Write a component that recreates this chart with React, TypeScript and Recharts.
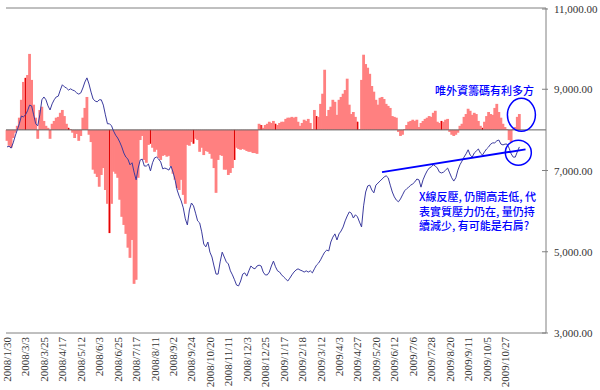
import React from "react";
import {
  ComposedChart,
  Bar,
  Line,
  XAxis,
  YAxis,
  ReferenceLine,
  ReferenceDot,
  Cell,
} from "recharts";

// TAIEX close (right axis), one point every ~1.75 trading days
const taiex = [
  7580, 7600, 7550, 7680, 7850, 8000, 8150, 8340, 8320, 8370,
  8470, 8610, 8590, 8370, 8150, 8100, 8370, 8740, 8810, 8740,
  8590, 8490, 8640, 8740, 8810, 8830, 8980, 9110, 9060, 9030,
  8980, 9010, 8980, 8960, 8910, 8880, 8910, 9030, 9180, 9280,
  9130, 8930, 8760, 8710, 8690, 8740, 8740, 8610, 8370, 8150,
  8150, 8100, 7970, 7870, 7800, 7700, 7580, 7430, 7330, 7280,
  7140, 7190, 6960, 6770, 7060, 7260, 7280, 7110, 7110, 7160,
  6990, 7190, 7310, 7330, 7280, 7210, 7040, 7060, 7040, 7010,
  7110, 6960, 6770, 6520, 6370, 6250, 6080, 5810, 5660, 6030,
  6200, 6130, 5950, 5760, 5710, 5490, 5190, 5120, 5240, 4990,
  4870, 4650, 4450, 4450, 4750, 4990, 4870, 4750, 4700, 4530,
  4430, 4310, 4180, 4160, 4280, 4450, 4480, 4400, 4530, 4650,
  4600, 4580, 4650, 4670, 4650, 4500, 4430, 4430, 4500, 4650,
  4770, 4630, 4530, 4500, 4430, 4380, 4330, 4280, 4350, 4430,
  4500, 4550, 4580, 4550, 4530, 4500, 4530, 4500, 4530, 4480,
  4580, 4670, 4720, 4800, 4900, 4990, 5040, 5020, 5240, 5360,
  5440, 5290, 5440, 5510, 5610, 5760, 5880, 5980, 5950, 5830,
  5910, 5860, 5730, 5610, 6130, 6470, 6620, 6640, 6520, 6450,
  6640, 6690, 6740, 6790, 6840, 6870, 6820, 6640, 6470, 6350,
  6270, 6230, 6300, 6400, 6500, 6550, 6590, 6640, 6670, 6720,
  6790, 6770, 6590, 6770, 6890, 6990, 7060, 7090, 7140, 7110,
  7060, 6960, 6940, 6960, 7010, 7060, 6940, 6820, 6740, 6820,
  7010, 7140, 7230, 7330, 7410, 7510, 7380, 7330, 7430, 7480,
  7530, 7430, 7380, 7460, 7530, 7580, 7650, 7680, 7680, 7730,
  7750, 7650, 7630, 7650, 7650, 7550, 7410, 7330, 7330, 7460, 7580,
];

// foreign investor chips (hidden left axis), same points as taiex
const flow = [
  -27, -39, -44, -20, -7, 10, 30, 74, 118, 128,
  135, 187, 123, 62, 30, -22, 49, 57, 22, 10,
  5, -22, 15, 22, 30, 32, 42, 49, 34, 15,
  5, 2, -7, -20, -10, -27, -15, 30, 54, 81,
  -12, -30, -98, -108, -116, -140, -111, -94, -148, -182,
  -254, -182, -103, -108, -118, -172, -214, -234, -256, -290,
  -315, -271, -379, -369, -118, -25, -15, -74, -81, -37,
  -34, -44, -54, -49, -69, -74, -64, -62, -66, -64,
  -89, -108, -123, -143, -148, -123, -160, -182, -37, -39,
  -30, -34, -22, -25, -54, -44, -62, -52, -54, -59,
  -71, -94, -155, -74, -62, -64, -98, -98, -111, -106,
  -94, -74, -44, -47, -49, -47, -49, -52, -54, -54,
  -57, -57, -59, 15, 12, 5, 12, 15, 20, 17,
  22, 15, 12, 17, 20, 20, 27, 30, 30, 32,
  30, 32, 20, 10, 17, 25, 22, 27, 17, 2,
  49, 34, 32, 64, 89, 148, 34, 49, 57, 74,
  69, 37, 74, 81, 89, 98, 126, 62, 39, 44,
  32, 20, 2, 123, 185, 162, 153, 138, 108, 94,
  74, 62, 79, 81, 76, 64, 59, 54, 34, 32,
  30, -5, -15, -12, 2, 12, 20, 22, 25, 22,
  25, 7, 17, 22, 27, 30, 34, 32, 42, 47,
  20, 17, 22, 20, 25, 27, -5, -12, -15, -12,
  -7, 10, 15, 32, 39, 52, 47, 37, 42, 39,
  22, 10, 5, 20, 34, 44, 39, 37, 54, 64,
  44, 30, 15, 7, 2, -25, -30, 2, 7, 32, 39,
];

const dateLabels = [
  "2008/1/30", "2008/3/3", "2008/3/25", "2008/4/17", "2008/5/12", "2008/6/3",
  "2008/6/25", "2008/7/17", "2008/8/11", "2008/9/2", "2008/9/24", "2008/10/20",
  "2008/11/11", "2008/12/3", "2008/12/25", "2009/1/17", "2009/2/18", "2009/3/12",
  "2009/4/3", "2009/4/27", "2009/5/20", "2009/6/12", "2009/7/6", "2009/7/28",
  "2009/8/20", "2009/9/11", "2009/10/5", "2009/10/27",
];
const labelStep = 9;

const rightTicks = [3000, 5000, 7000, 9000, 11000];
const leftTicks = [-500, -400, -300, -200, -100, 0, 100, 200, 300];

// bars that Excel drew with a thin darker edge
const darkBars = [9, 30, 50, 70, 91, 111, 124, 131, 151, 171, 212, 232];

// annotations: neckline and the two circles
const necklineStart = { x: 183, y: 6960 };
const necklineEnd = { x: 253, y: 7520 };
const upperCircle = { x: 251, y: 8370 };
const lowerCircle = { x: 249.5, y: 7440 };

const data = taiex.map((v, i) => ({ i, taiex: v, flow: flow[i] }));
const xTicks = dateLabels.map((_, k) => k * labelStep);

const AXIS = "#808080";
const BAR = "#ff8080";
const BAR_EDGE = "#e00000";
const SERIF = '"Liberation Serif", "Times New Roman", serif';
const CJK = '"Noto Sans CJK TC", "Noto Sans CJK SC", sans-serif';

const fmt = (v: number) =>
  v.toLocaleString("en-US", { minimumFractionDigits: 2, maximumFractionDigits: 2 });

const DateTick = (props: any) => {
  const { x, y, payload } = props;
  const label = dateLabels[Math.round(payload.value / labelStep)] || "";
  return (
    <g transform={`translate(${x},${y})`}>
      <text
        x={0}
        y={0}
        dy={4}
        textAnchor="end"
        transform="rotate(-90)"
        fontSize={11}
        fontFamily={SERIF}
        fill="#333"
      >
        {label}
      </text>
    </g>
  );
};

const RightTick = (props: any) => {
  const { x, y, payload } = props;
  return (
    <g>
      <line x1={x - 12} x2={x - 6} y1={y} y2={y} stroke={AXIS} />
      <text x={x} y={y} dy={4} textAnchor="start" fontSize={11} fontFamily={SERIF} fill="#333">
        {fmt(payload.value)}
      </text>
    </g>
  );
};

const LeftTick = (props: any) => {
  const { x, y } = props;
  return <line x1={x} x2={x + 3} y1={y} y2={y} stroke={AXIS} />;
};

// bars drawn a touch wider so neighbours butt together like Excel's 0-gap columns
const FlowBar = (p: any) => {
  if (p.height == null || p.width == null) return null;
  const top = Math.min(p.y, p.y + p.height);
  const h = Math.abs(p.height);
  const dark = p.fill === BAR_EDGE;
  return (
    <g>
      <rect x={p.x - 0.4} y={top} width={p.width + 0.8} height={h} fill={BAR} />
      {dark && <rect x={p.x + p.width / 2 - 0.5} y={top} width={1} height={h} fill={BAR_EDGE} />}
    </g>
  );
};

const ellipse = (rx: number, ry: number) => (p: any) =>
  (
    <ellipse cx={p.cx} cy={p.cy} rx={rx} ry={ry} fill="none" stroke="#0000ff" strokeWidth={1.5} />
  );

const note: React.CSSProperties = {
  position: "absolute",
  color: "#0000ff",
  fontFamily: CJK,
  fontSize: 11,
  fontWeight: 500,
  lineHeight: "14.5px",
  whiteSpace: "pre",
};

export default function App() {
  return (
    <div style={{ position: "absolute", left: 0, top: 0, width: 600, height: 390, background: "#fff" }}>
      <ComposedChart
        width={600}
        height={390}
        data={data}
        margin={{ top: 8, right: 0, bottom: 0, left: 6 }}
      >
        <XAxis
          dataKey="i"
          type="number"
          domain={[-0.5, 263]}
          ticks={xTicks}
          interval={0}
          height={57}
          tickSize={0}
          tickMargin={4}
          tickLine={false}
          axisLine={{ stroke: AXIS }}
          tick={<DateTick />}
        />
        <YAxis
          yAxisId="left"
          orientation="left"
          domain={[-500, 300]}
          ticks={leftTicks}
          width={0}
          tickSize={0}
          tickMargin={0}
          tickLine={false}
          axisLine={{ stroke: AXIS }}
          tick={<LeftTick />}
        />
        <YAxis
          yAxisId="right"
          orientation="right"
          domain={[3000, 11000]}
          ticks={rightTicks}
          width={54}
          tickSize={0}
          tickMargin={8}
          tickLine={false}
          axisLine={{ stroke: AXIS }}
          tick={<RightTick />}
        />
        <ReferenceLine yAxisId="right" y={11000} stroke={AXIS} />
        <Bar
          yAxisId="left"
          dataKey="flow"
          barSize={2}
          fill={BAR}
          shape={<FlowBar />}
          isAnimationActive={false}
        >
          {data.map((d) => (
            <Cell key={d.i} fill={darkBars.includes(d.i) ? BAR_EDGE : BAR} />
          ))}
        </Bar>
        <ReferenceLine yAxisId="left" y={0} stroke="#606060" />
        <Line
          yAxisId="right"
          dataKey="taiex"
          type="linear"
          stroke="#3b3b9e"
          strokeWidth={1}
          dot={false}
          isAnimationActive={false}
        />
        <ReferenceLine
          yAxisId="right"
          segment={[necklineStart, necklineEnd]}
          stroke="#0000ff"
          strokeWidth={2}
        />
        <ReferenceDot yAxisId="right" x={upperCircle.x} y={upperCircle.y} shape={ellipse(14, 16.5)} />
        <ReferenceDot yAxisId="right" x={lowerCircle.x} y={lowerCircle.y} shape={ellipse(13, 12.5)} />
      </ComposedChart>

      <div style={{ ...note, right: 66, top: 83 }}>唯外資籌碼有利多方</div>
      <div style={{ ...note, left: 419, top: 189 }}>
        {"X線反壓, 仍開高走低, 代\n表實質壓力仍在, 量仍持\n續減少, 有可能是右肩?"}
      </div>
    </div>
  );
}
